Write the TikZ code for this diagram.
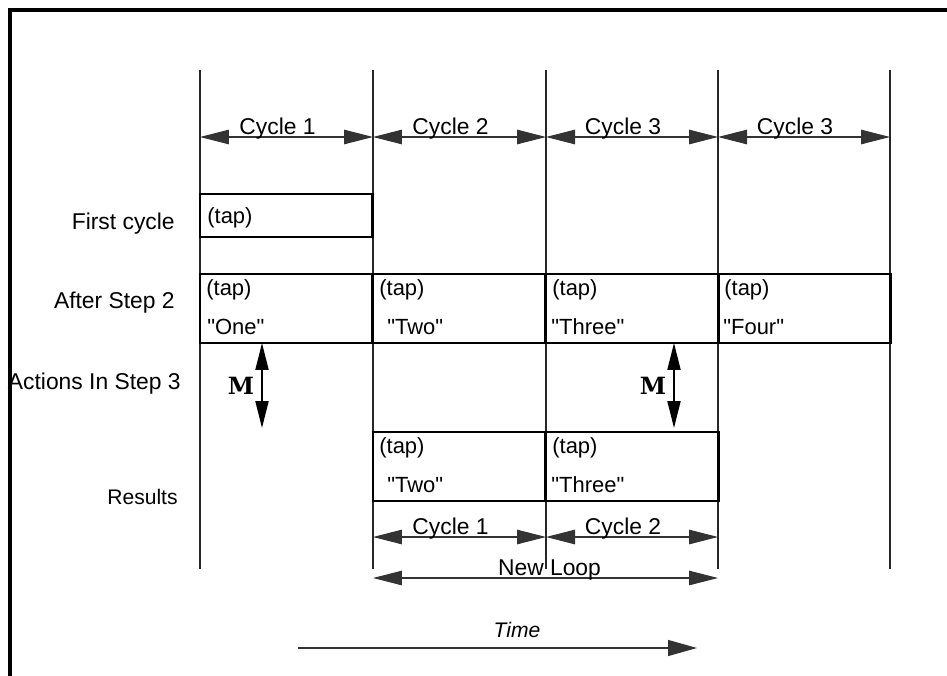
\documentclass[tikz,border=0pt]{standalone}
\usepackage{fontspec}
\setsansfont{Liberation Sans}
\newfontfamily\markfont{DejaVu Serif}
\usetikzlibrary{arrows.meta,positioning}
\newcommand{\lblfont}{\sffamily\fontsize{13}{16}\selectfont}
\newcommand{\qt}[1]{\textquotedbl#1\textquotedbl}
\tikzset
{
    bar/.style       = {draw=black!85, line width=0.7pt},
    cell/.style      = {rectangle, draw=black, line width=1.4pt, anchor=north west, inner sep=0pt, outer sep=0pt, minimum width=3.45cm, minimum height=#1},
    tapnote/.style   = {font=\sffamily\fontsize{12.5}{15}\selectfont, anchor=base west, inner sep=0pt},
    rowlabel/.style  = {font=\lblfont, anchor=base east, inner sep=0pt},
    span/.style      = {{Triangle[length=0.58cm,width=0.29cm]}-{Triangle[length=0.58cm,width=0.29cm]}, draw=black!80, line width=0.6pt},
    spanlabel/.style = {font=\lblfont, anchor=base, inner sep=0pt, yshift=0.06cm, xshift=-0.18cm},
    move/.style      = {{Triangle[length=0.54cm,width=0.26cm]}-{Triangle[length=0.54cm,width=0.26cm]}, line width=1.1pt},
    marklabel/.style = {font=\markfont\bfseries\fontsize{13.5}{16}\selectfont, midway, left=0.14cm, inner sep=0pt}
}

\begin{document}
\begin{tikzpicture}[x=0.02cm, y=-0.02cm]
\useasboundingbox (0,0) rectangle (947,676);

% cycle boundaries
\foreach \i/\x in {0/200,1/373,2/546,3/718,4/890}
{
    \coordinate (top\i) at (\x,70);
    \coordinate (bot\i) at (\x,569);
    \draw[bar] (top\i) -- (bot\i);
}
\coordinate (rowA) at (0,137);
\coordinate (rowB) at (0,537);
\coordinate (rowC) at (0,578);

%% cycles on top
\foreach \i/\j/\t in {0/1/Cycle 1,1/2/Cycle 2,2/3/Cycle 3,3/4/Cycle 3}
    \draw[span] (top\i |- rowA) -- node[spanlabel] {\t} (top\j |- rowA);

%% row labels
\node (lfirst)   [rowlabel] at (175,229) {First cycle};
\node (lafter)   [rowlabel] at (175,308) {After Step 2};
\node (lactions) [rowlabel] at (181,389) {Actions In Step 3};
\node (lresults) [rowlabel, font=\sffamily\fontsize{12}{15}\selectfont] at (178,504) {Results};

%% first cycle
\node (first) [cell=0.86cm] at (200,194) {};
\node (firsttap) [tapnote] at ([shift={(7,29)}]first.north west) {(tap)};

%% after step 2
\foreach \i/\x/\dx/\w in {1/200/7/One,2/373/14/Two,3/546/5/Three,4/718/5/Four}
{
    \node (aft\i) [cell=1.38cm] at (\x,274) {};
    \node (afttap\i) [tapnote] at ([shift={(6,21)}]aft\i.north west) {(tap)};
    \node (aftword\i) [tapnote] at ([shift={(\dx,60)}]aft\i.north west) {\qt{\w}};
}

%% moves in step 3
\coordinate (mA) at (262,428);
\coordinate (mB) at (674,428);
\draw[move] (aft1.south -| mA) -- node[marklabel] (labA) {M} (mA);
\draw[move] (aft3.south -| mB) -- node[marklabel] (labB) {M} (mB);

%% results
\foreach \i/\x/\dx/\w in {1/373/14/Two,2/546/5/Three}
{
    \node (res\i) [cell=1.38cm] at (\x,432) {};
    \node (restap\i) [tapnote] at ([shift={(6,21)}]res\i.north west) {(tap)};
    \node (resword\i) [tapnote] at ([shift={(\dx,60)}]res\i.north west) {\qt{\w}};
}
\draw[span] (top1 |- rowB) -- node[spanlabel] {Cycle 1} (top2 |- rowB);
\draw[span] (top2 |- rowB) -- node[spanlabel] {Cycle 2} (top3 |- rowB);
\draw[span] (top1 |- rowC) -- node[spanlabel, xshift=0.26cm] {New Loop} (top3 |- rowC);

%% time axis
\coordinate (t0) at (298,648);
\coordinate (t1) at (697,648);
\draw[-{Triangle[length=0.58cm,width=0.32cm]}, draw=black!80, line width=0.7pt] (t0) -- (t1);
\node (time) [font=\sffamily\itshape\fontsize{12}{15}\selectfont, anchor=base, inner sep=0pt] at (517,637) {Time};

% frame
\draw[line width=1.8pt] (947,10) -- (10,10) -- (10,676);
\end{tikzpicture}
\end{document}
